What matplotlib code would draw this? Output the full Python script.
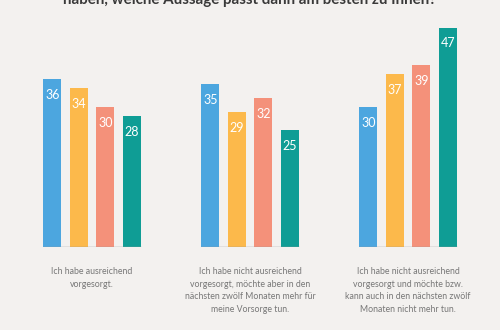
import numpy as np
import matplotlib
matplotlib.use("Agg")
import matplotlib.pyplot as plt

plt.rcParams['font.family'] = ['Lato', 'DejaVu Sans']

title = "haben, welche Aussage passt dann am besten zu Ihnen?"
categories = [
    "Ich habe ausreichend\nvorgesorgt.",
    "Ich habe nicht ausreichend\nvorgesorgt, möchte aber in den\nnächsten zwölf Monaten mehr für\nmeine Vorsorge tun.",
    "Ich habe nicht ausreichend\nvorgesorgt und möchte bzw.\nkann auch in den nächsten zwölf\nMonaten nicht mehr tun.",
]
# four series (unlabelled in the picture), one value per category
series = [
    [36, 35, 30],
    [34, 29, 37],
    [30, 32, 39],
    [28, 25, 47],
]
colors = ["#4ca6df", "#fcb94b", "#f4917a", "#0f9d95"]
bg = "#f3f1ef"

fig = plt.figure(figsize=(5, 3.3), dpi=100, facecolor=bg)
ax = fig.add_axes([0, 83 / 330, 1, 247 / 330])
ax.set_facecolor(bg)

step = 0.1677
width = 0.111
x = np.arange(len(categories))
offsets = (np.arange(len(series)) - 1.5) * step

for vals, off, c in zip(series, offsets, colors):
    bars = ax.bar(x + off, vals, width=width, color=c, zorder=2)
    for b, v in zip(bars, vals):
        ax.annotate(str(v), (b.get_x() + b.get_width() / 2, v),
                    xytext=(0, -11.5), textcoords="offset points",
                    ha="center", va="center", color="white", fontsize=9)

left = x + offsets[0] - width / 2
right = x + offsets[-1] + width / 2
ax.hlines(np.zeros(len(x)), left, right, color="#9a9a9a", lw=1, zorder=3)

for xi, lab in zip(x, categories):
    ax.annotate(lab, (xi, 0), xytext=(0, -14.5), textcoords="offset points",
                ha="center", va="top", color="#777777", fontsize=6.3,
                linespacing=1.5, annotation_clip=False)

ax.set_xlim(-92 / 158, (500 - 92) / 158)
ax.set_ylim(0, 247 / 4.67)
ax.axis("off")

fig.text(0.5, 1 - 4 / 330, title, ha="center", va="baseline",
         fontsize=10.9, fontweight="bold", color="#3a3a3a")

fig.savefig("out.png", dpi=100, facecolor=bg)
